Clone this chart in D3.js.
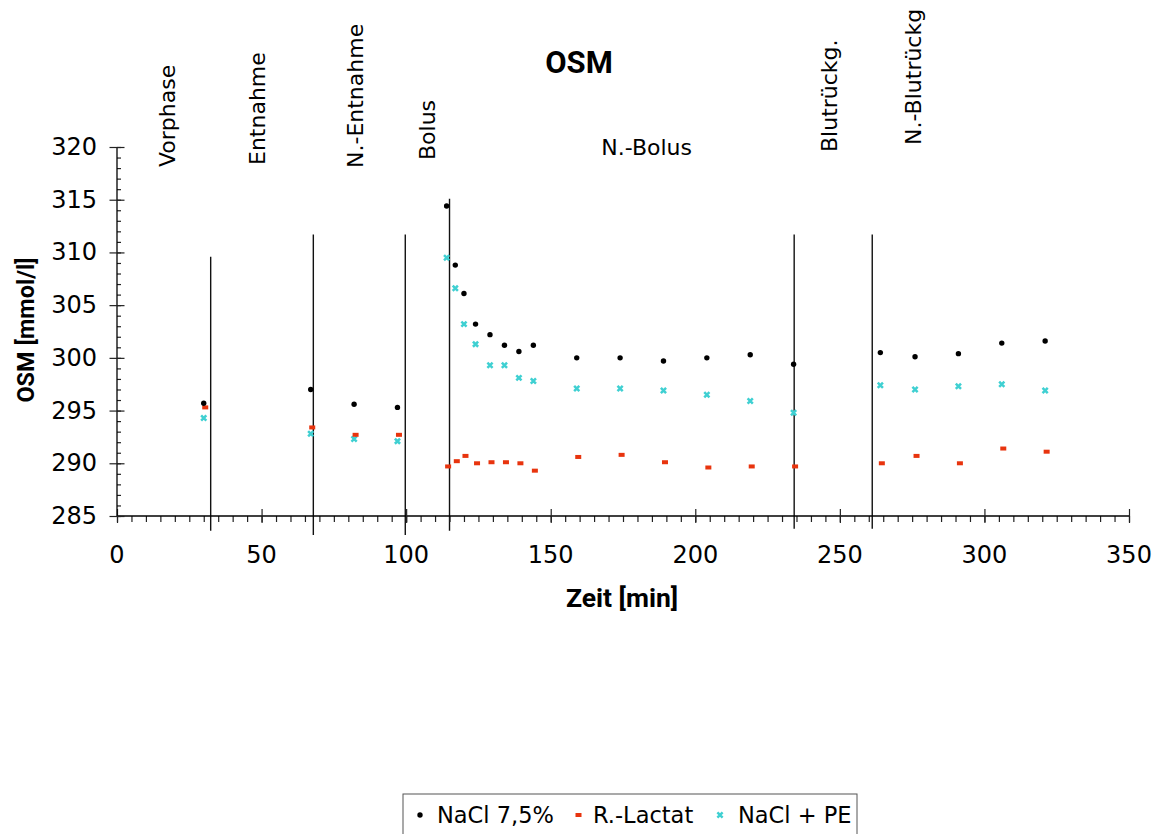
<!DOCTYPE html>
<html>
<head>
<meta charset="utf-8">
<script src="https://cdn.jsdelivr.net/npm/d3@7"></script>
<style>
  body { margin: 0; background: #fff; }
  svg text { font-family: "DejaVu Sans", Verdana, sans-serif; fill: #000; }
  svg text.bold { font-family: Roboto, "DejaVu Sans", sans-serif; font-weight: bold; }
</style>
</head>
<body>
<svg></svg>
<script>
var width = 1164;
var height = 834;

// Zeitpunkte [min]
var times = [30, 67, 82, 97, 114, 117, 120, 124, 129, 134, 139, 144,
             159, 174, 189, 204, 219, 234, 264, 276, 291, 306, 321];

// OSM [mmol/l]
var nacl75   = [295.7, 297.0, 295.6, 295.3, 314.4, 308.8, 306.1, 303.2, 302.2, 301.2, 300.6, 301.2,
                300.0, 300.0, 299.7, 300.0, 300.3, 299.4, 300.5, 300.1, 300.4, 301.4, 301.6];
var rlactat  = [295.3, 293.4, 292.7, 292.7, 289.7, 290.2, 290.7, 290.0, 290.1, 290.1, 290.0, 289.3,
                290.6, 290.8, 290.1, 289.6, 289.7, 289.7, 290.0, 290.7, 290.0, 291.4, 291.1];
var naclPE   = [294.3, 292.8, 292.3, 292.1, 309.5, 306.6, 303.2, 301.3, 299.3, 299.3, 298.1, 297.8,
                297.1, 297.1, 296.9, 296.5, 295.9, 294.8, 297.4, 297.0, 297.3, 297.5, 296.9];

// Phasengrenzen: [Zeit, oberer Wert, unterer Wert]
var phaseLines = [[32.4, 309.6, 283.6], [67.9, 311.7, 283.2], [99.7, 311.7, 283.2],
                  [115.0, 315.1, 283.6], [234.2, 311.7, 283.8], [261.2, 311.7, 283.8]];

var phaseNames = ["Vorphase", "Entnahme", "N.-Entnahme", "Bolus", "N.-Bolus", "Blutrückg.", "N.-Blutrückg"];
var phaseAt    = [18.0, 49.0, 83.0, 108.0, 167.5, 247.0, 276.0];

var xTicks = [0, 50, 100, 150, 200, 250, 300, 350];
var yTicks = [285, 290, 295, 300, 305, 310, 315, 320];

var seriesNames = ["NaCl 7,5%", "R.-Lactat", "NaCl + PE"];

// layout
var phaseBottom = [167, 165, 168, 160, 155, 152, 145];
var phaseRot    = [true, true, true, true, false, true, true];

var svg = d3.select("svg")
    .attr("width", width)
    .attr("height", height);

svg.append("rect").attr("width", width).attr("height", height).attr("fill", "#fff");

var x = d3.scaleLinear().domain([0, 350]).range([117, 1129]);
var y = d3.scaleLinear().domain([285, 320]).range([516, 147]);

// phase lines
svg.append("g").selectAll("line")
    .data(phaseLines)
  .enter().append("line")
    .attr("x1", function(d) { return x(d[0]); })
    .attr("x2", function(d) { return x(d[0]); })
    .attr("y1", function(d) { return y(d[1]); })
    .attr("y2", function(d) { return y(d[2]); })
    .attr("stroke", "#111")
    .attr("stroke-width", 1.4);

// x axis (minor + major)
var gx = svg.append("g").attr("transform", "translate(0," + y(285) + ")");
gx.call(d3.axisBottom(x).tickValues(d3.range(0, 351, 5)).tickSize(6).tickFormat(""))
gx.select(".domain").remove();
gx.append("line").attr("x1", x(0)).attr("x2", x(350)).attr("stroke", "#000").attr("stroke-width", 1.3);
gx.append("g").call(d3.axisBottom(x).tickValues(xTicks).tickSize(7).tickPadding(0).tickFormat(""))
  .call(function(g) { g.select(".domain").remove(); })
  .selectAll(".tick line").attr("y1", -7);
gx.selectAll(".tick line").attr("stroke", "#222").attr("stroke-width", 1.2);
gx.selectAll(".lbl")
    .data(xTicks)
  .enter().append("text")
    .attr("class", "lbl")
    .attr("x", function(d) { return x(d); })
    .attr("y", 47)
    .attr("text-anchor", "middle")
    .style("font-size", "24px")
    .text(function(d) { return d; });

// y axis
var gy = svg.append("g").attr("transform", "translate(" + x(0) + ",0)");
gy.call(d3.axisRight(y).tickValues(d3.range(285, 321, 1)).tickSize(4).tickFormat(""));
gy.select(".domain").remove();
gy.append("line").attr("y1", y(285)).attr("y2", y(320)).attr("stroke", "#000").attr("stroke-width", 1.3);
gy.append("g").call(d3.axisRight(y).tickValues(yTicks).tickSize(7.5).tickFormat(""))
  .call(function(g) { g.select(".domain").remove(); })
  .selectAll(".tick line").attr("x1", -7.5);
gy.selectAll(".tick line").attr("stroke", "#222").attr("stroke-width", 1.2);
gy.selectAll(".lbl")
    .data(yTicks)
  .enter().append("text")
    .attr("class", "lbl")
    .attr("x", -20)
    .attr("y", function(d) { return y(d) + 8; })
    .attr("text-anchor", "end")
    .style("font-size", "24px")
    .text(function(d) { return d; });

// titles
svg.append("text")
    .attr("class", "bold")
    .attr("x", 579).attr("y", 73)
    .attr("text-anchor", "middle")
    .style("font-size", "31px")
    .text("OSM");

svg.append("text")
    .attr("class", "bold")
    .attr("x", 622).attr("y", 607)
    .attr("text-anchor", "middle")
    .style("font-size", "26.5px")
    .text("Zeit [min]");

svg.append("text")
    .attr("class", "bold")
    .attr("transform", "translate(34,330) rotate(-90)")
    .attr("text-anchor", "middle")
    .style("font-size", "23.5px")
    .text("OSM [mmol/l]");

// phase labels
svg.append("g").selectAll("text")
    .data(phaseNames)
  .enter().append("text")
    .attr("transform", function(d, i) {
      if (phaseRot[i]) return "translate(" + (x(phaseAt[i]) + 6) + "," + phaseBottom[i] + ") rotate(-90)";
      return "translate(" + x(phaseAt[i]) + "," + phaseBottom[i] + ")";
    })
    .style("font-size", "22px")
    .text(function(d) { return d; });

// markers
var pts = times.map(function(t, i) { return { t: t, a: nacl75[i], b: rlactat[i], c: naclPE[i] }; });

function drawBlack(sel, cx, cy) {
  sel.append("circle").attr("cx", cx).attr("cy", cy).attr("r", 2.7).attr("fill", "#000");
}
function drawRed(sel, cx, cy) {
  sel.append("rect").attr("x", cx - 2.5).attr("y", cy - 2).attr("width", 6).attr("height", 4).attr("fill", "#e8340e");
}
function drawCyan(sel, cx, cy) {
  sel.append("path")
    .attr("d", "M" + (cx - 2.6) + "," + (cy - 2.6) + "L" + (cx + 2.6) + "," + (cy + 2.6) +
               "M" + (cx + 2.6) + "," + (cy - 2.6) + "L" + (cx - 2.6) + "," + (cy + 2.6))
    .attr("stroke", "#3fd0d2").attr("stroke-width", 2.5);
}

var gm = svg.append("g");
pts.forEach(function(d) {
  drawCyan(gm, x(d.t), y(d.c));
  drawRed(gm, x(d.t) + 1, y(d.b));
  drawBlack(gm, x(d.t), y(d.a));
});

// legend
var lg = svg.append("g");
lg.append("rect").attr("x", 403).attr("y", 794).attr("width", 454).attr("height", 60)
    .attr("fill", "none").attr("stroke", "#555").attr("stroke-width", 1);
var legX = [420, 579, 720];
var legT = [437, 593, 738];
drawBlack(lg, legX[0], 815);
drawRed(lg, legX[1] - 1, 815);
drawCyan(lg, legX[2], 815);
lg.selectAll("text.leg")
    .data(seriesNames)
  .enter().append("text")
    .attr("class", "leg")
    .attr("x", function(d, i) { return legT[i]; })
    .attr("y", 823)
    .style("font-size", "22.5px")
    .text(function(d) { return d; });
</script>
</body>
</html>
